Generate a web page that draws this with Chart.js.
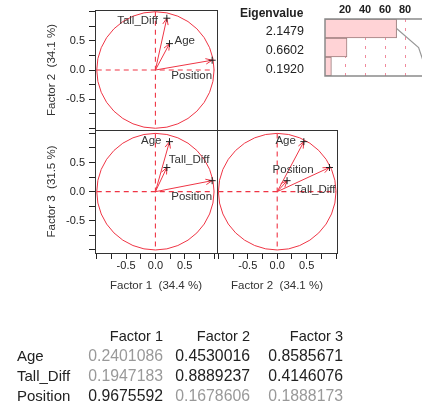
<!DOCTYPE html>
<html>
<head>
<meta charset="utf-8">
<script src="https://cdn.jsdelivr.net/npm/chart.js@4"></script>
<style>
html,body{margin:0;padding:0;width:422px;height:407px;overflow:hidden;background:#fff;font-family:"Liberation Sans",Arial,sans-serif;}
canvas{position:absolute;}
.txt{position:absolute;white-space:pre;color:#222;}
</style>
</head>
<body>
<canvas id="p1" width="222" height="135" style="left:0;top:0;width:222px;height:135px"></canvas>
<canvas id="p2" width="222" height="180" style="left:0;top:120px;width:222px;height:180px"></canvas>
<canvas id="p3" width="130" height="180" style="left:212px;top:120px;width:130px;height:180px"></canvas>
<canvas id="eig" width="200" height="80" style="left:230px;top:0;width:200px;height:80px"></canvas>
<div class="txt" id="eigTitle" style="left:240px;top:6px;font-size:12px;font-weight:bold;line-height:14px">Eigenvalue</div>
<div id="table"></div>
<script>
// ---------------- data ----------------
const variables = ['Age', 'Tall_Diff', 'Position'];
const factorNames = ['Factor 1', 'Factor 2', 'Factor 3'];
const factor1 = [0.2401086, 0.1947183, 0.9675592];
const factor2 = [0.4530016, 0.8889237, 0.1678606];
const factor3 = [0.8585671, 0.4146076, 0.1888173];
const factorTitles = ['Factor 1  (34.4 %)', 'Factor 2  (34.1 %)', 'Factor 3  (31.5 %)'];
const axisTicks = [-1, -0.75, -0.5, -0.25, 0, 0.25, 0.5, 0.75, 1];
const labeledTicks = [-0.5, 0, 0.5];
const eigenvalues = ['2.1479', '0.6602', '0.1920'];
const percentVar = [71.6, 22.0, 6.4];
const cumulativePct = [71.6, 93.6, 100];
const pctTicks = [20, 40, 60, 80];

// ---------------- styles ----------------
const RED = '#ef3545';
Chart.defaults.font.family = '"Liberation Sans", Arial, sans-serif';
Chart.defaults.color = '#222';

const biplotPlugin = {
  id: 'biplot',
  beforeDatasetsDraw(chart, args, o) {
    const {ctx, scales: {x, y}} = chart;
    const x0 = x.getPixelForValue(0), y0 = y.getPixelForValue(0);
    const rx = x.getPixelForValue(1) - x0, ry = y0 - y.getPixelForValue(1);
    ctx.save();
    ctx.strokeStyle = RED; ctx.lineWidth = 1;
    ctx.beginPath(); ctx.ellipse(x0, y0, rx, ry, 0, 0, Math.PI * 2); ctx.stroke();
    ctx.setLineDash([5, 4]);
    ctx.lineWidth = 1.1;
    ctx.beginPath();
    ctx.moveTo(x.getPixelForValue(-1), y0); ctx.lineTo(x.getPixelForValue(1), y0);
    ctx.moveTo(x0, y.getPixelForValue(1)); ctx.lineTo(x0, y.getPixelForValue(-1));
    ctx.stroke();
    ctx.setLineDash([]);
    ctx.lineWidth = 1;
    o.xv.forEach((xv, i) => {
      const tx = x.getPixelForValue(xv), ty = y.getPixelForValue(o.yv[i]);
      const a = Math.atan2(ty - y0, tx - x0);
      ctx.beginPath();
      ctx.moveTo(x0, y0); ctx.lineTo(tx, ty);
      ctx.moveTo(tx - 7 * Math.cos(a - 0.4), ty - 7 * Math.sin(a - 0.4));
      ctx.lineTo(tx, ty);
      ctx.lineTo(tx - 7 * Math.cos(a + 0.4), ty - 7 * Math.sin(a + 0.4));
      ctx.stroke();
    });
    ctx.restore();
  },
  afterDatasetsDraw(chart, args, o) {
    const {ctx, scales: {x, y}} = chart;
    ctx.save();
    ctx.font = '11.5px "Liberation Sans", Arial, sans-serif';
    ctx.fillStyle = '#333';
    ctx.textBaseline = 'middle';
    o.xv.forEach((xv, i) => {
      const tx = x.getPixelForValue(xv), ty = y.getPixelForValue(o.yv[i]);
      const p = o.place[i];
      ctx.textAlign = p[0];
      ctx.fillText(variables[i], tx + p[1], ty + p[2]);
    });
    ctx.restore();
  },
  afterDraw(chart) {
    const {ctx, chartArea: c} = chart;
    ctx.save();
    ctx.strokeStyle = '#333'; ctx.lineWidth = 1;
    ctx.strokeRect(Math.round(c.left) + 0.5, Math.round(c.top) + 0.5, Math.round(c.right - c.left), Math.round(c.bottom - c.top));
    ctx.restore();
  }
};

function axisCfg(pos, range, title, show) {
  const left = pos === 'left';
  return {
    type: 'linear', position: pos, display: show, min: range[0], max: range[1],
    afterBuildTicks: s => { s.ticks = axisTicks.map(v => ({value: v})); },
    afterFit: s => {
      s.paddingTop = 0; s.paddingBottom = 0; s.paddingLeft = 0; s.paddingRight = 0;
      if (!show) { if (left) s.width = 0; else s.height = 0; return; }
      if (left) s.width = 95; else s.height = 47;
    },
    ticks: {
      autoSkip: false, maxRotation: 0, minRotation: 0, padding: left ? 4 : 0,
      color: '#222', font: {size: 11},
      callback: v => labeledTicks.includes(v) ? v.toFixed(1) : ''
    },
    grid: {drawOnChartArea: false, drawTicks: true, tickLength: 6, color: '#222'},
    border: {display: false},
    title: {
      display: true, text: title, color: '#333', font: {size: 11.5},
      padding: left ? {top: 45, bottom: 0} : {top: 0, bottom: 7.6}
    }
  };
}

function biplot(id, xv, yv, xr, yr, showX, showY, xTitle, yTitle, pad, place) {
  return new Chart(document.getElementById(id), {
    type: 'scatter',
    data: {datasets: [{
      data: xv.map((v, i) => ({x: v, y: yv[i]})),
      pointStyle: 'cross', pointRadius: 3.5, borderColor: '#222', backgroundColor: '#222', borderWidth: 1
    }]},
    options: {
      responsive: false, animation: false, devicePixelRatio: 1,
      layout: {padding: pad},
      plugins: {legend: {display: false}, tooltip: {enabled: false},
        biplot: {xv, yv, place}},
      scales: {
        x: axisCfg('bottom', xr, xTitle, showX),
        y: axisCfg('left', yr, yTitle, showY)
      }
    },
    plugins: [biplotPlugin]
  });
}

// label placement: [align, dx, dy]
biplot('p1', factor1, factor2, [-1.03, 1.05], [-1.03, 1.03], false, true, factorTitles[0], factorTitles[1],
  {top: 10, right: 5, bottom: 5, left: 0},
  [['left', 5, -3], ['right', -9, 3], ['right', 0, 16]]);
biplot('p2', factor1, factor3, [-1.03, 1.05], [-1.052, 1.058], true, true, factorTitles[0], factorTitles[2],
  {top: 10, right: 5, bottom: 0, left: 0},
  [['right', -8, -1], ['left', 2, -8], ['right', 0, 16]]);
biplot('p3', factor2, factor3, [-1.024, 1.017], [-1.052, 1.058], true, false, factorTitles[1], factorTitles[2],
  {top: 10, right: 5, bottom: 0, left: 5},
  [['right', -8, -1], ['right', 6, 22], ['center', 6, -11]]);

// ---------------- eigenvalue bars ----------------
const framePlugin = {
  id: 'eigFrame',
  afterDraw(chart) {
    const {ctx, chartArea: c} = chart;
    ctx.save();
    ctx.strokeStyle = '#8a8a8a'; ctx.lineWidth = 1.5;
    ctx.strokeRect(c.left, c.top, c.right - c.left, c.bottom - c.top);
    ctx.restore();
  }
};
new Chart(document.getElementById('eig'), {
  type: 'bar',
  data: {
    labels: eigenvalues,
    datasets: [
      {type: 'line', data: cumulativePct, borderColor: '#999', borderWidth: 1.2, pointRadius: 0, fill: false, order: 0, indexAxis: 'y'},
      {type: 'bar', data: percentVar, backgroundColor: '#ffd3d6', borderColor: '#9c7c7c', borderWidth: 1,
       categoryPercentage: 1, barPercentage: 1, order: 1}
    ]
  },
  options: {
    indexAxis: 'y', responsive: false, animation: false, devicePixelRatio: 1,
    layout: {padding: {top: 0, right: 5, bottom: 4, left: 0}},
    plugins: {legend: {display: false}, tooltip: {enabled: false}},
    scales: {
      x: {
        type: 'linear', position: 'top', min: 0, max: 100,
        afterBuildTicks: s => { s.ticks = pctTicks.map(v => ({value: v})); },
        afterFit: s => { s.height = 19; s.paddingLeft = 0; s.paddingRight = 0; },
        ticks: {autoSkip: false, maxRotation: 0, padding: 2, color: '#222', font: {size: 11, weight: 'bold'}},
        grid: {drawTicks: false, color: '#f08a9c', lineWidth: 1},
        border: {display: false, dash: [3, 6]}
      },
      y: {
        type: 'category',
        afterFit: s => { s.width = 95; s.paddingTop = 0; s.paddingBottom = 0; },
        ticks: {padding: 21, labelOffset: 3, color: '#222', font: {size: 12.5}},
        grid: {display: false, drawTicks: false},
        border: {display: false}
      }
    }
  },
  plugins: [framePlugin]
});

// ---------------- loadings table ----------------
const loadings = [factor1, factor2, factor3];
const colRight = [163, 250, 343];
const rowCenter = [336, 356, 376, 396];
const tbl = document.getElementById('table');
function cell(text, right, center, color, size, alignLeft) {
  const d = document.createElement('div');
  d.className = 'txt';
  d.textContent = text;
  d.style.fontSize = size + 'px';
  d.style.lineHeight = '20px';
  d.style.top = (center - 10) + 'px';
  d.style.color = color;
  if (alignLeft) { d.style.left = right + 'px'; }
  else { d.style.left = (right - 120) + 'px'; d.style.width = '120px'; d.style.textAlign = 'right'; }
  tbl.appendChild(d);
}
factorNames.forEach((f, j) => cell(f, colRight[j], rowCenter[0], '#222', 14.5));
variables.forEach((v, i) => {
  cell(v, 17, rowCenter[i + 1], '#222', 15, true);
  loadings.forEach((col, j) => {
    cell(col[i].toFixed(7), colRight[j], rowCenter[i + 1], col[i] >= 0.4 ? '#222' : '#999', 15.8);
  });
});
</script>
</body>
</html>
